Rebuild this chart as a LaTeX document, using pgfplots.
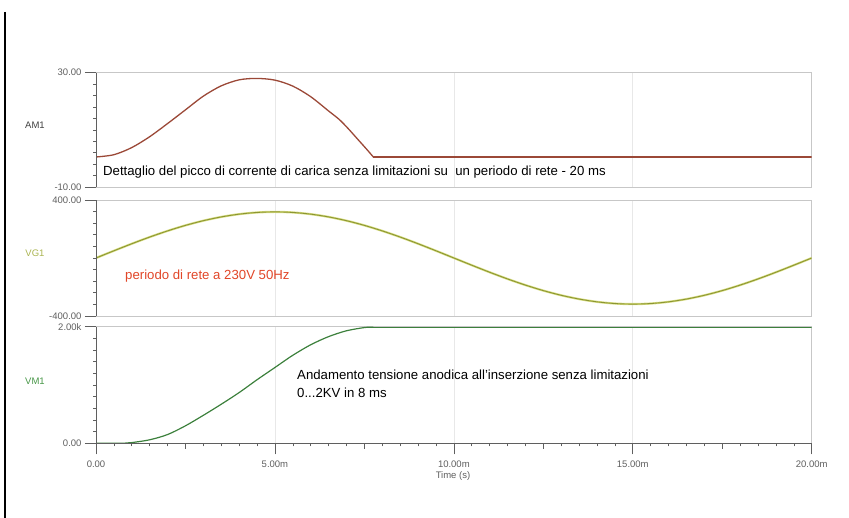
\documentclass[border=0pt]{standalone}
\usepackage{fontspec}
\setmainfont{Liberation Sans}
\usepackage{pgfplots}
\pgfplotsset{compat=1.18}
\definecolor{amc}{RGB}{155,72,55}
\definecolor{vgc}{RGB}{140,150,50}
\definecolor{vgh}{RGB}{215,220,130}
\definecolor{vmc}{RGB}{60,128,60}
\definecolor{vglab}{RGB}{170,180,80}
\definecolor{vmlab}{RGB}{70,150,70}
\definecolor{redtxt}{RGB}{225,70,40}
\definecolor{axc}{RGB}{95,95,95}
\pgfplotsset{panel/.style={
  scale only axis, width=715.7pt, xmin=0, xmax=20,
  axis line style={draw=black!22, line width=0.6pt},
  xtick={5,10,15}, xticklabels={}, xmajorgrids,
  grid style={draw=black!9, line width=0.6pt},
  x tick style={draw=none},
  ytick pos=left, tick align=outside,
  major tick length=11pt, minor tick length=3pt,
  y tick style={draw=axc, line width=0.6pt},
  minor y tick num=9,
  yticklabel style={font=\fontsize{9.5}{10}\selectfont, text=axc},
  after end axis/.code={\draw[axc, line width=0.7pt] (rel axis cs:0,0) -- (rel axis cs:0,1);},
}}
\pgfplotstableread{
t v
0.0 0
0.5 49.7
1.0 98.3
1.5 144.4
2.0 186.9
2.5 224.9
3.0 257.3
3.5 283.3
4.0 302.4
4.5 314.1
5.0 318
5.5 314.1
6.0 302.4
6.5 283.3
7.0 257.3
7.5 224.9
8.0 186.9
8.5 144.4
9.0 98.3
9.5 49.7
10.0 0
10.5 -49.7
11.0 -98.3
11.5 -144.4
12.0 -186.9
12.5 -224.9
13.0 -257.3
13.5 -283.3
14.0 -302.4
14.5 -314.1
15.0 -318
15.5 -314.1
16.0 -302.4
16.5 -283.3
17.0 -257.3
17.5 -224.9
18.0 -186.9
18.5 -144.4
19.0 -98.3
19.5 -49.7
20.0 0
}\vgtable
\begin{document}
\begin{tikzpicture}[x=1pt,y=1pt]
\path[use as bounding box] (0,0) rectangle (849,518);
\draw[line width=2.6pt] (5,506) -- (5,0);
% top panel
\begin{axis}[panel, at={(96pt,331pt)}, anchor=south west, height=114.3pt,
  ymin=-10, ymax=30, ytick={-10,30}, yticklabels={-10.00,30.00}]
\addplot[amc, line width=1.3pt, smooth] coordinates {
(0.00,0.5) (0.50,1.3) (1.00,3.8) (1.50,7.6) (2.00,12.2) (2.50,17.0) (3.00,21.8)
(3.50,25.4) (4.00,27.5) (4.49,28.0) (5.00,27.4) (5.50,25.3) (6.00,21.6)
(6.50,16.6) (6.80,13.6) (7.05,10.4) (7.30,6.9) (7.55,3.4) (7.75,0.5)};
\addplot[amc, line width=1.3pt] coordinates {(7.75,0.5) (20,0.5)};
\end{axis}
% middle panel
\begin{axis}[panel, at={(96pt,202pt)}, anchor=south west, height=116pt,
  ymin=-400, ymax=400, ytick={-400,400}, yticklabels={-400.00,400.00}]
\addplot[vgh, line width=2.2pt, smooth] table {\vgtable};
\addplot[vgc, line width=0.9pt, smooth] table {\vgtable};
\end{axis}
% bottom panel
\begin{axis}[panel, at={(96pt,74.7pt)}, anchor=south west, height=116.6pt,
  ymin=0, ymax=2000, ytick={0,2000}, yticklabels={0.00,2.00k},
  xtick={0,5,10,15,20}, xticklabels={0.00,5.00m,10.00m,15.00m,20.00m},
  x tick style={draw=axc, line width=0.6pt}, xtick pos=bottom,
  minor x tick num=9,
  xticklabel style={font=\fontsize{9.5}{10}\selectfont, text=axc, yshift=-3pt},
  after end axis/.append code={
    \draw[axc, line width=0.7pt] (rel axis cs:0,0) -- (rel axis cs:1,0);
    \foreach \m in {2.5,7.5,12.5,17.5}{\draw[axc, line width=0.6pt] (axis cs:\m,0) -- ++(0,-6pt);}
  }]
\addplot[vmc, line width=1.2pt, smooth] coordinates {
(0,0) (0.75,0) (1.0,12) (1.5,60) (2.0,150) (2.5,300) (3.0,480) (3.5,670)
(4.0,870) (4.5,1090) (5.0,1300) (5.5,1510) (6.0,1690) (6.5,1830) (7.0,1930)
(7.5,1985) (7.75,1992)};
\addplot[vmc, line width=1.2pt] coordinates {(7.75,1992) (20,1992)};
\end{axis}
% labels
\node[font=\fontsize{9.5}{10}\selectfont, text=black!75] at (35,393) {AM1};
\node[font=\fontsize{9.5}{10}\selectfont, text=vglab] at (35,264.7) {VG1};
\node[font=\fontsize{9.5}{10}\selectfont, text=vmlab] at (35,136.3) {VM1};
\node[font=\fontsize{9.5}{10}\selectfont, text=axc] at (453,42) {Time (s)};
\node[anchor=west, font=\fontsize{13.2}{15}\selectfont, inner sep=0pt] at (103,346) {Dettaglio del picco di corrente di carica senza limitazioni su \ un periodo di rete - 20 ms};
\node[anchor=west, font=\fontsize{13.2}{15}\selectfont, text=redtxt, inner sep=0pt] at (125,242) {periodo di rete a 230V 50Hz};
\node[anchor=west, font=\fontsize{13.2}{15}\selectfont, inner sep=0pt] at (297,143) {Andamento tensione anodica all'inserzione senza limitazioni};
\node[anchor=west, font=\fontsize{13.2}{15}\selectfont, inner sep=0pt] at (297,125) {0...2KV in 8 ms};
\end{tikzpicture}
\end{document}
